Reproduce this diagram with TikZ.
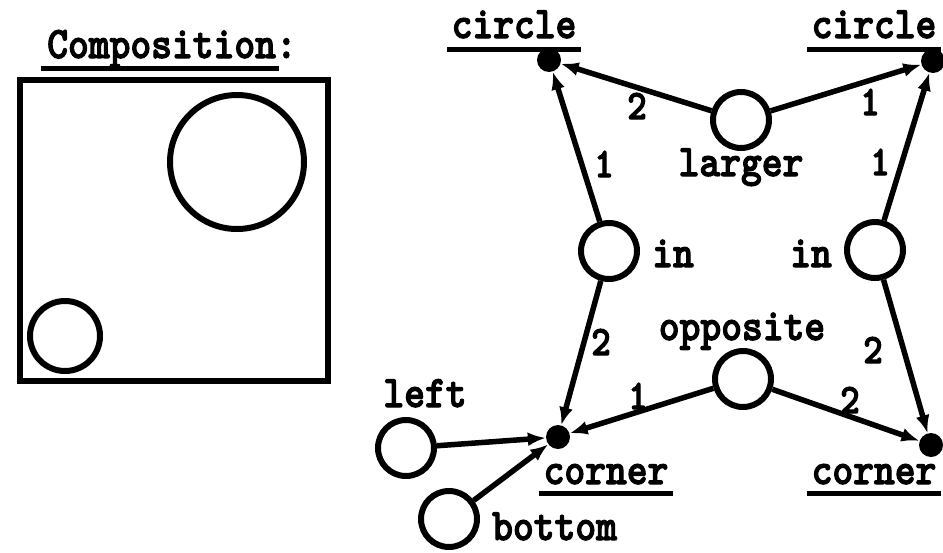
\documentclass[tikz,border=0pt]{standalone}
\usepackage{fontspec}
\newfontfamily\twfont{lmmonolt10-bold.otf}[FakeBold=2.5, FakeStretch=0.88]
\usetikzlibrary{arrows.meta,calc}
\begin{document}
\begin{tikzpicture}[x=1pt,y=-1pt,
  lbl/.style={font=\fontsize{45}{45}\selectfont\twfont, inner sep=0pt, anchor=base},
  num/.style={font=\fontsize{42}{42}\selectfont\twfont, inner sep=0pt},
  ring/.style={circle, draw, line width=6pt, minimum size=56pt, inner sep=0pt},
  dotn/.style={circle, fill, minimum size=24pt, inner sep=0pt},
  arr/.style={-{Latex[length=18pt,width=14pt]}, line width=5.5pt},
  ul/.style={line width=5pt},
  thickline/.style={line width=6pt}]
\useasboundingbox (0,0) rectangle (943,552);
% left panel
\node[lbl] (comp) at (172,58) {Composition:};
\draw[ul] ($(comp.base west)+(-6,10)$) -- ($(comp.base east)+(-18,10)$);
\draw[thickline] (20,80) rectangle (328,381);
\draw[thickline] (237,162) circle (67);
\draw[thickline] (65,336) circle (35);
% graph nodes
\node[dotn] (c1) at (549,60) {};
\node[dotn] (c2) at (933,61) {};
\node[dotn] (k1) at (558,437) {};
\node[dotn] (k2) at (931,445) {};
\node[ring] (lg) at (741,120) {};
\node[ring] (in1) at (609,251) {};
\node[ring] (in2) at (875,250) {};
\node[ring] (op) at (743,379) {};
\node[ring] (lf) at (406,448) {};
\node[ring] (bt) at (449,519) {};
% labels
\node[lbl] (t1) at (514,38) {circle};
\node[lbl] (t2) at (874,38) {circle};
\draw[ul] ($(t1.base west)+(-4,11)$) -- ($(t1.base east)+(4,11)$);
\draw[ul] ($(t2.base west)+(-4,11)$) -- ($(t2.base east)+(4,11)$);
\node[lbl] (tl) at (741,176) {larger};
\node[lbl] (ti1) at (673,267) {in};
\node[lbl] (ti2) at (811,267) {in};
\node[lbl] (to) at (742,340) {opposite};
\node[lbl] (t3) at (606,484) {corner};
\node[lbl] (t4) at (874,484) {corner};
\draw[ul] ($(t3.base west)+(-4,9)$) -- ($(t3.base east)+(4,9)$);
\draw[ul] ($(t4.base west)+(-4,9)$) -- ($(t4.base east)+(4,9)$);
\node[lbl] (tlf) at (425,407) {left};
\node[lbl, anchor=base west] (tbt) at (492,540) {bottom};
% edges
\draw[arr] (lg) -- (c1);
\draw[arr] (lg) -- (c2);
\draw[arr] (in1) -- (c1);
\draw[arr] (in2) -- (c2);
\draw[arr] (in1) -- (k1);
\draw[arr] (in2) -- (k2);
\draw[arr] (op) -- (k1);
\draw[arr] (op) -- (k2);
\draw[arr] (lf) -- (k1);
\draw[arr] (bt) -- (k1);
% edge numbers
\node[num] (n1) at (637,106) {2};
\node[num] (n2) at (870,102) {1};
\node[num] (n3) at (604,164) {1};
\node[num] (n4) at (880,162) {1};
\node[num] (n5) at (601,342) {2};
\node[num] (n6) at (873,350) {2};
\node[num] (n7) at (638,396) {1};
\node[num] (n8) at (850,400) {2};
\end{tikzpicture}
\end{document}
